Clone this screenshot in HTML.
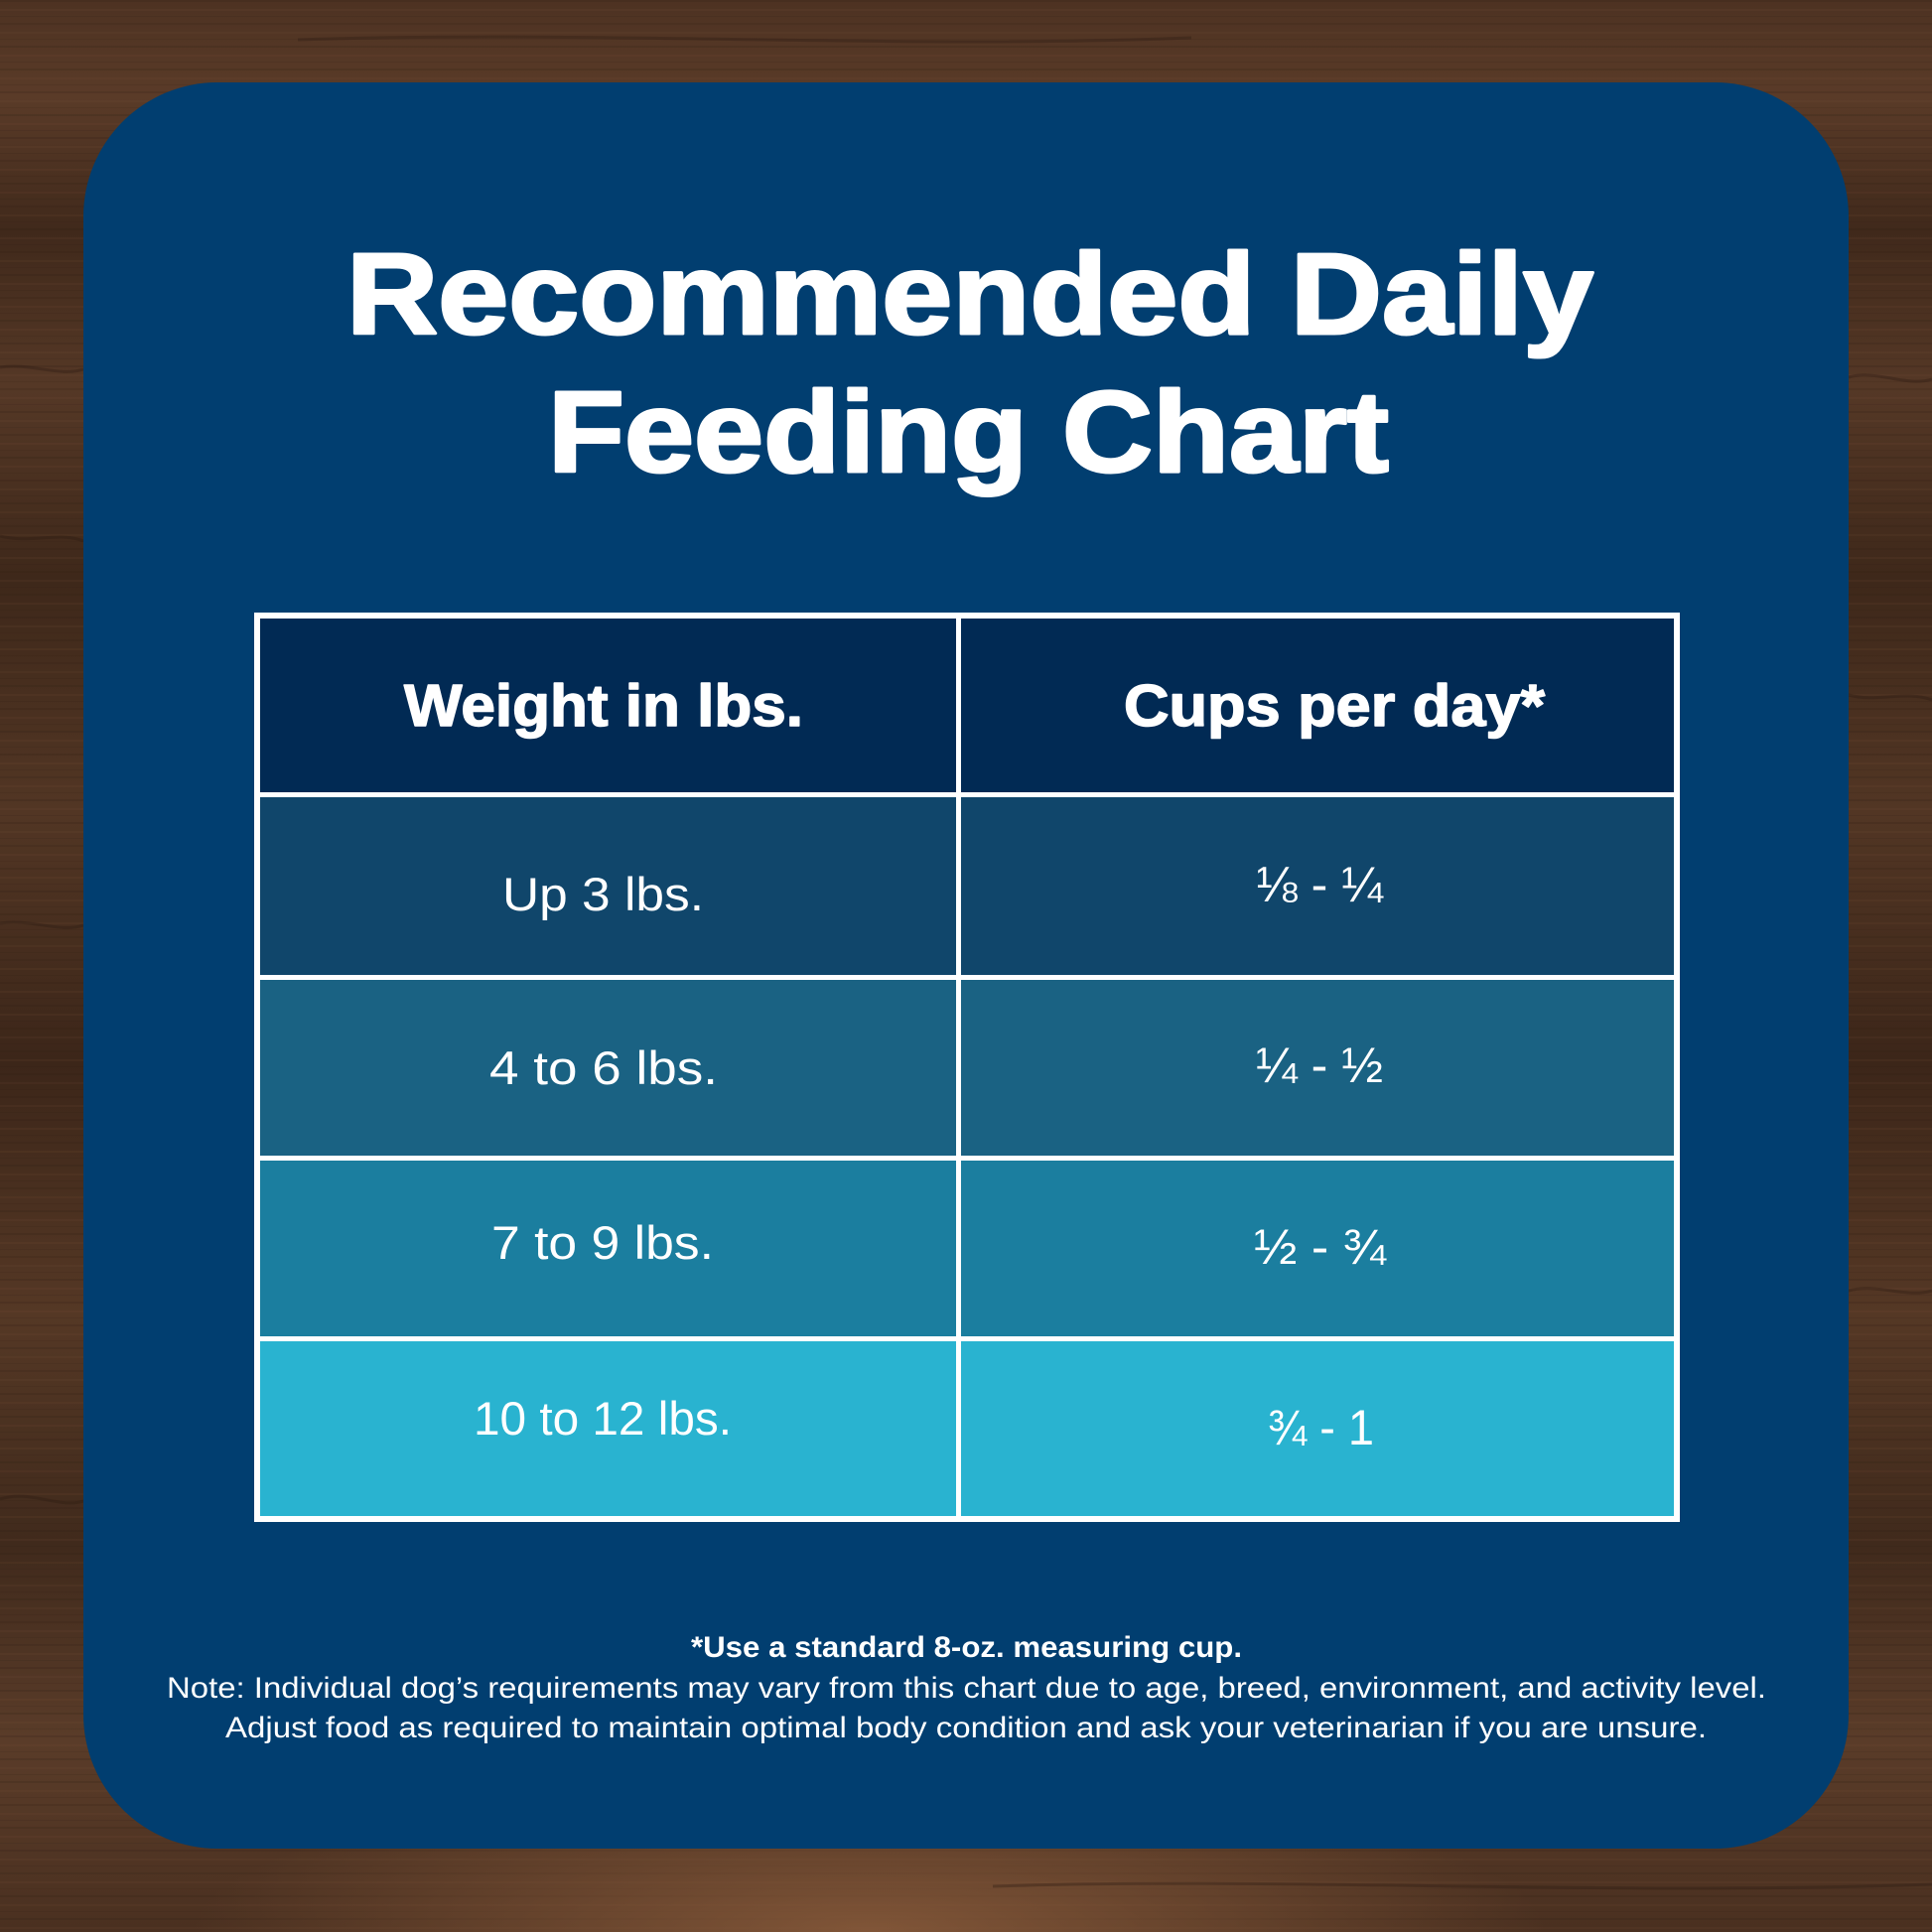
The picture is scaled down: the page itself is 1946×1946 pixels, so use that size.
<!DOCTYPE html>
<html>
<head>
<meta charset="utf-8">
<style>
  html, body { margin: 0; padding: 0; }
  body { width: 1946px; height: 1946px; overflow: hidden; background: #4a2f1f; }
  svg { display: block; }
  .t { font-family: "Liberation Sans", "DejaVu Sans", sans-serif; fill: #ffffff; }
  .heavy { stroke: #ffffff; stroke-linejoin: round; }
</style>
</head>
<body>
<svg width="1946" height="1946" viewBox="0 0 1946 1946" xmlns="http://www.w3.org/2000/svg">
  <defs>
    <linearGradient id="woodV" x1="0" y1="0" x2="0" y2="1">
      <stop offset="0" stop-color="#4d3222"/>
      <stop offset="0.05" stop-color="#5a3b28"/>
      <stop offset="0.12" stop-color="#40291b"/>
      <stop offset="0.2" stop-color="#553826"/>
      <stop offset="0.3" stop-color="#3e281a"/>
      <stop offset="0.42" stop-color="#523624"/>
      <stop offset="0.55" stop-color="#3c2619"/>
      <stop offset="0.68" stop-color="#553825"/>
      <stop offset="0.8" stop-color="#402a1c"/>
      <stop offset="0.9" stop-color="#5a3c29"/>
      <stop offset="1" stop-color="#4a3020"/>
    </linearGradient>
    <radialGradient id="woodLight" cx="0.45" cy="1.0" r="0.35">
      <stop offset="0" stop-color="#8a5c3c" stop-opacity="0.85"/>
      <stop offset="1" stop-color="#8a5c3c" stop-opacity="0"/>
    </radialGradient>
    <pattern id="grain" width="1946" height="23" patternUnits="userSpaceOnUse">
      <rect y="0" width="1946" height="2" fill="#2a1a10" opacity="0.18"/>
      <rect y="9" width="1946" height="2" fill="#7a5238" opacity="0.12"/>
      <rect y="16" width="1946" height="1" fill="#2a1a10" opacity="0.12"/>
    </pattern>
  </defs>

  <!-- wood background -->
  <rect x="0" y="0" width="1946" height="1946" fill="url(#woodV)"/>
  <rect x="0" y="0" width="1946" height="1946" fill="url(#grain)"/>
  <rect x="0" y="1500" width="1946" height="446" fill="url(#woodLight)"/>
  <g stroke="#2a1a10" stroke-opacity="0.35" stroke-width="3" fill="none">
    <path d="M0 370 C 30 365, 60 380, 84 372"/>
    <path d="M0 540 C 30 548, 60 535, 84 545"/>
    <path d="M0 930 C 30 925, 60 940, 84 932"/>
    <path d="M0 1510 C 30 1500, 60 1520, 84 1512"/>
    <path d="M1862 380 C 1890 372, 1920 390, 1946 382"/>
    <path d="M1862 700 C 1890 708, 1920 695, 1946 705"/>
    <path d="M1862 1300 C 1890 1292, 1920 1308, 1946 1300"/>
    <path d="M300 40 C 600 30, 900 50, 1200 38"/>
    <path d="M1000 1900 C 1300 1890, 1600 1910, 1946 1898"/>
  </g>

  <!-- card -->
  <rect x="84" y="83" width="1778" height="1779" rx="135" ry="135" fill="#013e70"/>

  <!-- title -->
  <text class="t heavy" x="349" y="336" font-size="116" font-weight="bold" stroke-width="3" textLength="1256" lengthAdjust="spacingAndGlyphs">Recommended Daily</text>
  <text class="t heavy" x="552" y="475" font-size="116" font-weight="bold" stroke-width="3" textLength="847" lengthAdjust="spacingAndGlyphs">Feeding Chart</text>

  <!-- table -->
  <rect x="256" y="617" width="1436" height="916" fill="#ffffff"/>
  <!-- header -->
  <rect x="262" y="623" width="701" height="175" fill="#012a54"/>
  <rect x="968" y="623" width="718" height="175" fill="#012a54"/>
  <!-- row 1 -->
  <rect x="262" y="803" width="701" height="179" fill="#10466b"/>
  <rect x="968" y="803" width="718" height="179" fill="#10466b"/>
  <!-- row 2 -->
  <rect x="262" y="987" width="701" height="177" fill="#1a6283"/>
  <rect x="968" y="987" width="718" height="177" fill="#1a6283"/>
  <!-- row 3 -->
  <rect x="262" y="1169" width="701" height="177" fill="#1b7e9f"/>
  <rect x="968" y="1169" width="718" height="177" fill="#1b7e9f"/>
  <!-- row 4 -->
  <rect x="262" y="1351" width="701" height="176" fill="#29b3d0"/>
  <rect x="968" y="1351" width="718" height="176" fill="#29b3d0"/>

  <!-- header text -->
  <text class="t heavy" x="407" y="731" font-size="59" font-weight="bold" stroke-width="1.5" textLength="402" lengthAdjust="spacingAndGlyphs">Weight in lbs.</text>
  <text class="t heavy" x="1132" y="731" font-size="59" font-weight="bold" stroke-width="1.5" textLength="424" lengthAdjust="spacingAndGlyphs">Cups per day*</text>

  <!-- body text col 1 -->
  <text class="t" x="506" y="917" font-size="47" textLength="203" lengthAdjust="spacingAndGlyphs">Up 3 lbs.</text>
  <text class="t" x="493" y="1092" font-size="47" textLength="230" lengthAdjust="spacingAndGlyphs">4 to 6 lbs.</text>
  <text class="t" x="495" y="1268" font-size="47" textLength="224" lengthAdjust="spacingAndGlyphs">7 to 9 lbs.</text>
  <text class="t" x="477" y="1445" font-size="47" textLength="260" lengthAdjust="spacingAndGlyphs">10 to 12 lbs.</text>

  <!-- body text col 2 -->
  <text class="t" x="1265" y="908" font-size="50" textLength="128" lengthAdjust="spacingAndGlyphs">⅛ - ¼</text>
  <text class="t" x="1265" y="1090" font-size="50" textLength="128" lengthAdjust="spacingAndGlyphs">¼ - ½</text>
  <text class="t" x="1263" y="1273" font-size="50" textLength="133" lengthAdjust="spacingAndGlyphs">½ - ¾</text>
  <text class="t" x="1277" y="1455" font-size="50" textLength="107" lengthAdjust="spacingAndGlyphs">¾ - 1</text>

  <!-- footer -->
  <text class="t" x="696" y="1669" font-size="30" font-weight="bold" textLength="555" lengthAdjust="spacingAndGlyphs">*Use a standard 8-oz. measuring cup.</text>
  <text class="t" x="168" y="1710" font-size="30" textLength="1611" lengthAdjust="spacingAndGlyphs">Note: Individual dog’s requirements may vary from this chart due to age, breed, environment, and activity level.</text>
  <text class="t" x="227" y="1750" font-size="30" textLength="1492" lengthAdjust="spacingAndGlyphs">Adjust food as required to maintain optimal body condition and ask your veterinarian if you are unsure.</text>
</svg>
</body>
</html>
